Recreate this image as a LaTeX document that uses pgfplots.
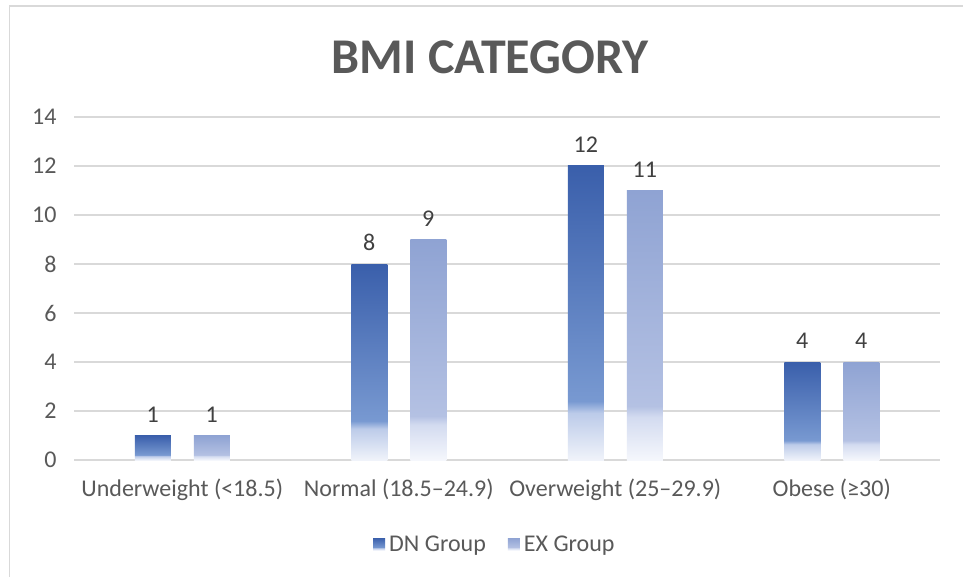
\documentclass[border=0pt]{standalone}
\usepackage{pgfplots}
\pgfplotsset{compat=1.18}
\usepackage{fontspec}
\setmainfont{Carlito}

\definecolor{txtgray}{HTML}{595959}
\definecolor{lblgray}{HTML}{404040}
\definecolor{gridgray}{HTML}{D9D9D9}
\definecolor{dntop}{HTML}{3A5FAB}
\definecolor{dnmid}{HTML}{7899D1}
\definecolor{dnlow}{HTML}{BCCBE9}
\definecolor{dnbot}{HTML}{F0F3FA}
\definecolor{extop}{HTML}{8FA3D3}
\definecolor{exmid}{HTML}{B4C1E3}
\definecolor{exlow}{HTML}{D3DBF0}
\definecolor{exbot}{HTML}{F5F7FC}

% bars: solid at the top, lighter downwards, fading out near the base
\pgfdeclareverticalshading{dnshade}{100bp}{color(0bp)=(dnbot); color(25bp)=(dnbot);
  color(33bp)=(dnlow); color(35bp)=(dnmid); color(75bp)=(dntop); color(100bp)=(dntop)}
\pgfdeclareverticalshading{exshade}{100bp}{color(0bp)=(exbot); color(25bp)=(exbot);
  color(33bp)=(exlow); color(35bp)=(exmid); color(75bp)=(extop); color(100bp)=(extop)}

\pgfplotsset{
  dnbar/.style={draw=none, shading=dnshade, bar shift=-29.5pt},
  exbar/.style={draw=none, shading=exshade, bar shift=29.5pt},
}

\begin{document}
\begin{tikzpicture}[x=1pt,y=1pt]
\clip (0,0) rectangle (963,576);
\fill[white] (0,0) rectangle (963,576);
\draw[gridgray, line width=1.3pt] (9.5,-20) -- (9.5,570) -- (990,570);

\node[font=\fontsize{50}{60}\selectfont\bfseries, text=txtgray] at (490,519) {BMI CATEGORY};

\begin{axis}[
  at={(74pt,116pt)}, anchor=south west,
  scale only axis, width=866pt, height=343pt,
  ybar, bar width=36pt,
  xmin=-0.5, xmax=3.5, ymin=0, ymax=14,
  xtick={0,1,2,3},
  xticklabels={Underweight (<18.5), Normal (18.5–24.9), Overweight (25–29.9), Obese (≥30)},
  ytick={0,2,...,14},
  ymajorgrids, grid style={gridgray, line width=1.1pt},
  axis line style={draw=none},
  major tick style={draw=none},
  /pgf/number format/assume math mode=true,
  yticklabel style={font=\fontsize{24}{28}\selectfont, text=txtgray, xshift=-14pt},
  xticklabel style={font=\fontsize{24}{28}\selectfont, text=txtgray, yshift=-11pt},
  nodes near coords,
  every node near coord/.append style={font=\fontsize{24}{28}\selectfont, text=lblgray,
     anchor=south, inner sep=0pt, yshift=13pt},
  legend style={at={(0.486,-0.245)}, anchor=center, draw=none, fill=none,
     legend columns=2, font=\fontsize{24}{28}\selectfont, text=txtgray,
     /tikz/every odd column/.append style={column sep=2pt},
     /tikz/every even column/.append style={column sep=20pt}},
  legend image code/.code={\path[#1, draw=none] (0pt,-6pt) rectangle (12pt,6pt);},
]
% each bar is its own path so that its shading follows its own height
\addplot[dnbar] coordinates {(0,1)};
\addlegendentry{DN Group}
\addplot[exbar] coordinates {(0,1)};
\addlegendentry{EX Group}
\addplot[dnbar, forget plot] coordinates {(1,8)};
\addplot[exbar, forget plot] coordinates {(1,9)};
\addplot[dnbar, forget plot] coordinates {(2,12)};
\addplot[exbar, forget plot] coordinates {(2,11)};
\addplot[dnbar, forget plot] coordinates {(3,4)};
\addplot[exbar, forget plot] coordinates {(3,4)};
\end{axis}
\end{tikzpicture}
\end{document}
